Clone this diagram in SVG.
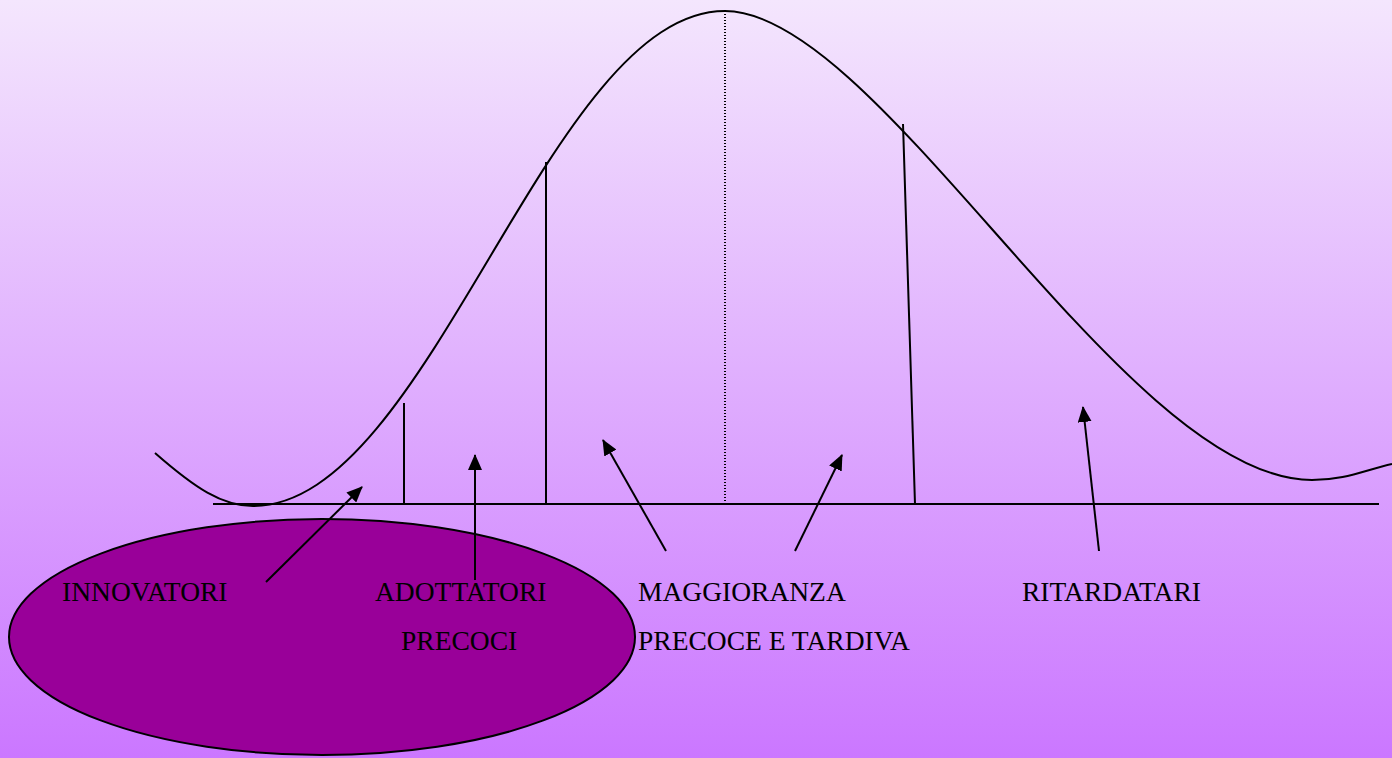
<svg xmlns="http://www.w3.org/2000/svg" width="1392" height="758" viewBox="0 0 1392 758">
<defs>
<linearGradient id="bg" x1="0" y1="0" x2="0" y2="1">
<stop offset="0" stop-color="#F4E6FD"/>
<stop offset="1" stop-color="#CB77FF"/>
</linearGradient>
<marker id="ah" viewBox="0 0 16 14" refX="15" refY="7" markerWidth="16" markerHeight="14" markerUnits="userSpaceOnUse" orient="auto">
<path d="M0,0 L16,7 L0,14 Z" fill="#000"/>
</marker>
<style>
.ln{stroke:#000;stroke-width:2;fill:none}
.ar{stroke:#000;stroke-width:2;fill:none;marker-end:url(#ah)}
.tx{font-family:"Liberation Serif","Times New Roman",serif;font-size:27.5px;fill:#000}
</style>
</defs>
<rect width="1392" height="758" fill="url(#bg)"/>
<g id="ellipse">
<ellipse cx="322" cy="637" rx="313" ry="118" fill="#990099" stroke="#000" stroke-width="2"/>
</g>
<g id="curve">
<path class="ln" d="M155,453 C195,488 222,506 253,506 C430,506 548,11 725,11 C880,11 1125,480 1312,480 C1345,480 1365,470 1392,464"/>
<line class="ln" x1="213" y1="504" x2="1379" y2="504"/>
<line class="ln" x1="404" y1="403" x2="404" y2="504"/>
<line class="ln" x1="546" y1="162" x2="546" y2="504"/>
<line x1="725" y1="11" x2="725" y2="504" stroke="#000" stroke-width="2" stroke-dasharray="1,2"/>
<line class="ln" x1="903" y1="124" x2="915" y2="504"/>
</g>
<g id="connectors">
<line class="ar" x1="266" y1="582" x2="362" y2="487"/>
<line class="ar" x1="475" y1="580" x2="475" y2="455"/>
<line class="ar" x1="666" y1="551" x2="603" y2="440"/>
<line class="ar" x1="795" y1="551" x2="842" y2="455"/>
<line class="ar" x1="1099" y1="551" x2="1083" y2="407"/>
</g>
<g id="labels">
<text class="tx" x="62" y="601">INNOVATORI</text>
<text class="tx" x="375" y="601">ADOTTATORI</text>
<text class="tx" x="401" y="650">PRECOCI</text>
<text class="tx" x="638" y="601">MAGGIORANZA</text>
<text class="tx" x="638" y="650">PRECOCE E TARDIVA</text>
<text class="tx" x="1022" y="601">RITARDATARI</text>
</g>
</svg>
